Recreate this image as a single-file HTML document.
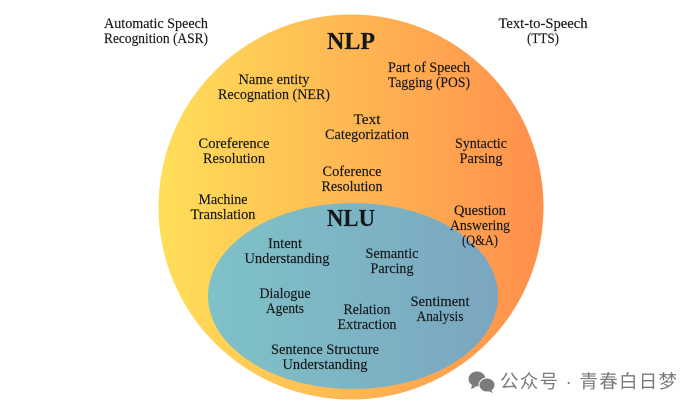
<!DOCTYPE html>
<html><head><meta charset="utf-8"><style>
html,body{margin:0;padding:0;background:#fff;width:700px;height:409px;overflow:hidden}
svg{display:block}
text{font-family:"Liberation Serif",serif;font-size:14.5px;fill:#14181a;stroke:#14181a;stroke-width:.15px;text-anchor:middle}
.h{font-size:24px;font-weight:bold}
.w{font-family:"Liberation Sans","Noto Sans CJK SC",sans-serif;font-size:18.5px;fill:#7b7b7b;stroke:none;text-anchor:start}
</style></head><body>
<svg width="700" height="409" viewBox="0 0 700 409" xmlns="http://www.w3.org/2000/svg">
<defs>
<linearGradient id="o" x1="0" x2="1" y1="0" y2="0"><stop offset="0" stop-color="#ffdf59"/><stop offset="1" stop-color="#ff8f4c"/></linearGradient>
<linearGradient id="b" x1="0" x2="1" y1="0" y2="0"><stop offset="0" stop-color="#7fc2c8"/><stop offset="1" stop-color="#7ba6c0"/></linearGradient>
</defs>
<circle cx="351" cy="207" r="192.5" fill="url(#o)"/>
<ellipse cx="353" cy="296" rx="145" ry="93" fill="url(#b)"/>
<text x="156" y="28" textLength="104" lengthAdjust="spacingAndGlyphs">Automatic Speech</text>
<text x="156" y="43" textLength="104" lengthAdjust="spacingAndGlyphs">Recognition (ASR)</text>
<text x="543" y="28" textLength="89" lengthAdjust="spacingAndGlyphs">Text-to-Speech</text>
<text x="543" y="43" textLength="32" lengthAdjust="spacingAndGlyphs">(TTS)</text>
<text class="h" x="351" y="49" textLength="48" lengthAdjust="spacingAndGlyphs">NLP</text>
<text x="274" y="84" textLength="71" lengthAdjust="spacingAndGlyphs">Name entity</text>
<text x="274" y="99" textLength="112" lengthAdjust="spacingAndGlyphs">Recognation (NER)</text>
<text x="429" y="72" textLength="82" lengthAdjust="spacingAndGlyphs">Part of Speech</text>
<text x="429" y="87" textLength="82" lengthAdjust="spacingAndGlyphs">Tagging (POS)</text>
<text x="367" y="124" textLength="27" lengthAdjust="spacingAndGlyphs">Text</text>
<text x="367" y="139" textLength="84" lengthAdjust="spacingAndGlyphs">Categorization</text>
<text x="234" y="148" textLength="71" lengthAdjust="spacingAndGlyphs">Coreference</text>
<text x="234" y="163" textLength="62" lengthAdjust="spacingAndGlyphs">Resolution</text>
<text x="481" y="148" textLength="52" lengthAdjust="spacingAndGlyphs">Syntactic</text>
<text x="481" y="163" textLength="43" lengthAdjust="spacingAndGlyphs">Parsing</text>
<text x="352" y="176" textLength="59" lengthAdjust="spacingAndGlyphs">Coference</text>
<text x="352" y="191" textLength="61" lengthAdjust="spacingAndGlyphs">Resolution</text>
<text x="223" y="204" textLength="49" lengthAdjust="spacingAndGlyphs">Machine</text>
<text x="223" y="219" textLength="65" lengthAdjust="spacingAndGlyphs">Translation</text>
<text x="480" y="215" textLength="52" lengthAdjust="spacingAndGlyphs">Question</text>
<text x="480" y="230" textLength="60" lengthAdjust="spacingAndGlyphs">Answering</text>
<text x="480" y="245" textLength="36" lengthAdjust="spacingAndGlyphs">(Q&amp;A)</text>
<text class="h" x="351" y="226" textLength="48" lengthAdjust="spacingAndGlyphs">NLU</text>
<text x="285" y="248" textLength="34" lengthAdjust="spacingAndGlyphs">Intent</text>
<text x="287" y="263" textLength="85" lengthAdjust="spacingAndGlyphs">Understanding</text>
<text x="392" y="258" textLength="53" lengthAdjust="spacingAndGlyphs">Semantic</text>
<text x="392" y="273" textLength="43" lengthAdjust="spacingAndGlyphs">Parcing</text>
<text x="285" y="298" textLength="51" lengthAdjust="spacingAndGlyphs">Dialogue</text>
<text x="285" y="313" textLength="38" lengthAdjust="spacingAndGlyphs">Agents</text>
<text x="367" y="314" textLength="47" lengthAdjust="spacingAndGlyphs">Relation</text>
<text x="367" y="329" textLength="59" lengthAdjust="spacingAndGlyphs">Extraction</text>
<text x="440" y="306" textLength="59" lengthAdjust="spacingAndGlyphs">Sentiment</text>
<text x="440" y="321" textLength="47" lengthAdjust="spacingAndGlyphs">Analysis</text>
<text x="325" y="354" textLength="108" lengthAdjust="spacingAndGlyphs">Sentence Structure</text>
<text x="325" y="369" textLength="85" lengthAdjust="spacingAndGlyphs">Understanding</text>
<g fill="#7b7b7b">
<ellipse cx="477" cy="379" rx="8.5" ry="7.5"/><path d="M472 385l-1 4 5-2z"/>
<ellipse cx="487" cy="385" rx="8" ry="7" stroke="#fff" stroke-width="1"/><path d="M491 390l2 3-5-2z"/>
</g>
<text class="w" x="500" y="388" textLength="177" lengthAdjust="spacing">公众号 · 青春白日梦</text>
</svg>
</body></html>
